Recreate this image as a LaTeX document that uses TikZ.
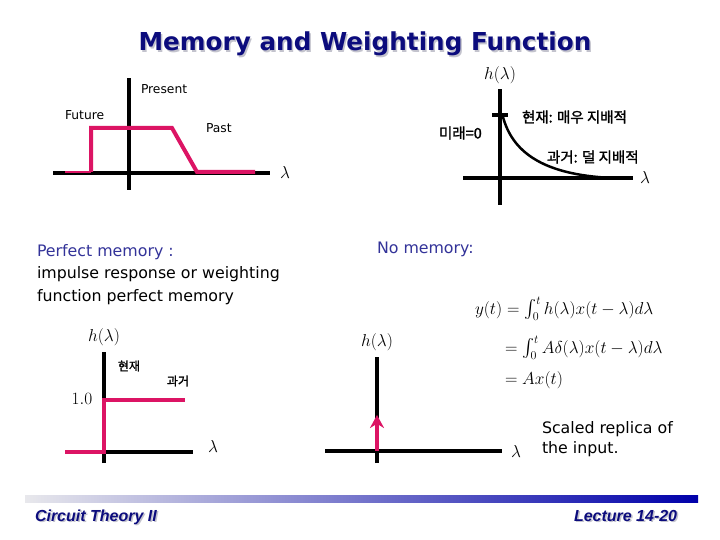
\documentclass[tikz,border=0pt]{standalone}
\usepackage{amsmath,amssymb}
\usepackage{fontspec}
\setmainfont{DejaVu Sans}
\newfontfamily\piefont{Liberation Sans}
\newfontfamily\hangul[FakeBold=1.5]{Noto Sans CJK KR}
\usepackage{xcolor}
\usepackage{tikz}
\usetikzlibrary{arrows.meta}
\definecolor{rosapeso}{RGB}{220,20,100}
\definecolor{azultitulo}{RGB}{12,12,125}
\definecolor{azultexto}{RGB}{51,51,153}
\definecolor{grissombra}{RGB}{195,195,205}
\definecolor{grisbarra}{RGB}{232,232,236}
\definecolor{azulbarra}{RGB}{0,0,170}
% texto con sombra gris
\newcommand{\consombra}[1]{\leavevmode\rlap{\kern1.5pt\raisebox{-1.5pt}{\textcolor{grissombra}{#1}}}#1}

\begin{document}
\begin{tikzpicture}[x=1pt, y=-1pt, >=Stealth, line width=4pt,
    eje/.style={black, line width=4pt},
    pulso/.style={rosapeso, line width=4pt},
    rotulo/.style={font=\fontsize{12.3}{14}\selectfont, inner sep=0pt},
    cuerpo/.style={font=\fontsize{15.8}{19}\selectfont, inner sep=0pt},
    coreano/.style={font=\hangul\fontsize{12}{14}\selectfont, inner sep=0pt},
    coreanogrande/.style={font=\hangul\fontsize{14.5}{17}\selectfont, inner sep=0pt, anchor=west},
    mate/.style={font=\fontsize{16.5}{19}\selectfont, inner sep=0pt},
    ecuacion/.style={font=\fontsize{18}{21}\selectfont, inner sep=0pt, anchor=base west},
    pie/.style={font=\piefont\bfseries\itshape\fontsize{16}{18}\selectfont, text=azultitulo, inner sep=0pt, anchor=base west}]
    \useasboundingbox (0,0) rectangle (720,540);
    \fill[white] (0,0) rectangle (720,540);
    % titulo con sombra
    \node[font=\bfseries\fontsize{24.7}{28}\selectfont, text=azultitulo] (titulo) at (365,45) {\consombra{Memory and Weighting Function}};
    % primer grafico: futuro, presente, pasado
    \draw[eje] (53,173) -- (270,173) node[mate, right=8pt] (lamA) {$\lambda$};
    \draw[eje] (129,190) -- (129,78);
    \draw[rosapeso, line width=2pt] (65,172) -- (91,172);
    \draw[pulso] (91,172) -- (91,128) -- (172,128) -- (197,172) -- (255,172);
    \node[rotulo, anchor=base west] (presente) at (139,94) {Present};
    \node[rotulo, anchor=base west] (futuro) at (63,120) {Future};
    \node[rotulo, anchor=base west] (pasado) at (204,133) {Past};
    % segundo grafico: decaimiento
    \draw[eje] (463,178) -- (633,178) node[mate, right=5pt] (lamB) {$\lambda$};
    \draw[eje] (500,205) -- (500,89) node[mate, above=3pt] (hB) {$h(\lambda)$};
    \draw[eje] (492,115) -- (508,115);
    \draw[line width=2.5pt] (503,117) .. controls (512,150) and (540,175) .. (613,178);
    \node[coreanogrande] (presenteK) at (520,117) {현재: 매우 지배적};
    \node[coreanogrande] (futuroK) at (437,133) {미래=0};
    \node[coreanogrande] (pasadoK) at (545,157) {과거: 덜 지배적};
    % memoria perfecta
    \node[cuerpo, anchor=base west, text=azultexto] (perfecta) at (35,256) {Perfect memory :};
    \node[cuerpo, anchor=base west] (perfecta2) at (35,278) {impulse response or weighting};
    \node[cuerpo, anchor=base west] (perfecta3) at (35,301) {function perfect memory};
    \draw[eje] (67,452) -- (193,452);
    \node[mate] (lamC) at (213,446) {$\lambda$};
    \draw[eje] (104,463) -- (104,352) node[mate, above=4pt] (hC) {$h(\lambda)$};
    \draw[pulso] (65,452) -- (104,452) -- (104,400) -- (185,400);
    \node[mate] (unoC) at (82,399) {$1.0$};
    \node[coreano] (presenteC) at (129,366) {현재};
    \node[coreano] (pasadoC) at (178,381) {과거};
    % sin memoria
    \node[cuerpo, anchor=base west, text=azultexto] (nula) at (375,253) {No memory:};
    \node[ecuacion] (ec1) at (473,314) {$y(t) = \int_0^t h(\lambda)x(t-\lambda)d\lambda$};
    \node[ecuacion] (ec2) at (503,353) {$= \int_0^t A\delta(\lambda)x(t-\lambda)d\lambda$};
    \node[ecuacion] (ec3) at (503,384) {$= Ax(t)$};
    \draw[eje] (325,451) -- (502,451) node[mate, right=7pt] (lamD) {$\lambda$};
    \draw[eje] (377,463) -- (377,357) node[mate, above=4pt] (hD) {$h(\lambda)$};
    \draw[pulso, -{Stealth[length=13pt, width=14pt]}] (377,451) -- (377,415);
    \node[cuerpo, anchor=base west] (replica) at (540,433) {Scaled replica of};
    \node[cuerpo, anchor=base west] (replica2) at (540,453) {the input.};
    % pie de pagina
    \shade[left color=grisbarra, right color=azulbarra] (25,495) rectangle (698,502);
    \node[pie] (curso) at (33,521) {\consombra{Circuit Theory II}};
    \node[pie] (leccion) at (572,521) {\consombra{Lecture 14-20}};
\end{tikzpicture}
\end{document}
